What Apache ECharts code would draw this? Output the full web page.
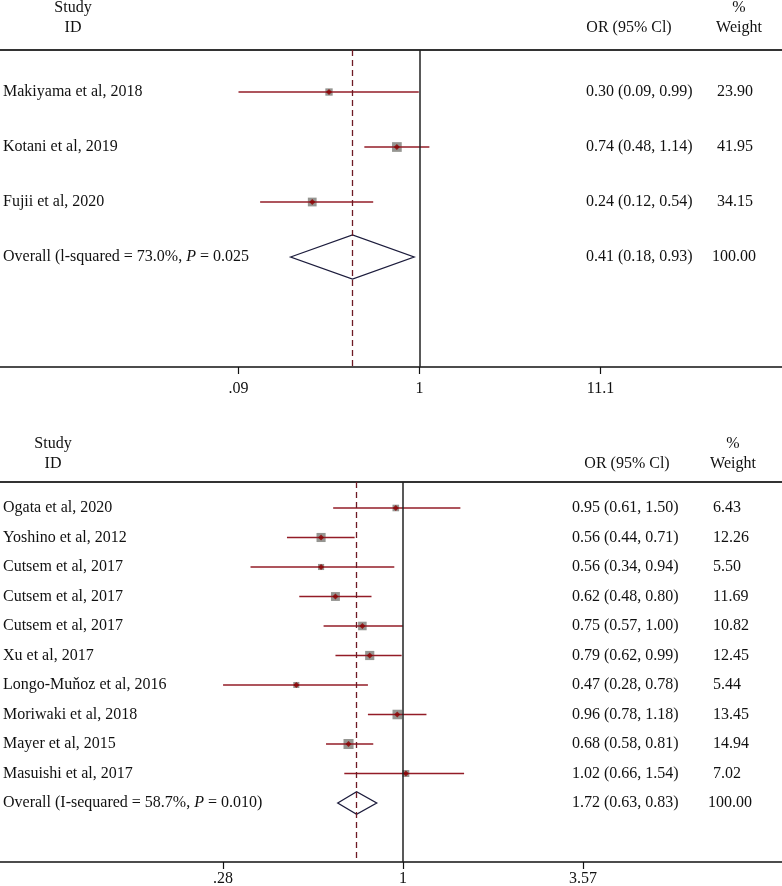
<!DOCTYPE html>
<html>
<head>
<meta charset="utf-8">
<script src="https://cdn.jsdelivr.net/npm/echarts@6/dist/echarts.min.js"></script>
<style>
html,body{margin:0;padding:0;background:#fff}
#main{width:782px;height:886px}
</style>
</head>
<body>
<div id="main"></div>
<script>
// upper panel
var topStudies = ['Makiyama et al, 2018', 'Kotani et al, 2019', 'Fujii et al, 2020'];
var topOR = [0.30, 0.74, 0.24];
var topLow = [0.09, 0.48, 0.12];
var topHigh = [0.99, 1.14, 0.54];
var topWeight = [23.90, 41.95, 34.15];
var topORText = ['0.30 (0.09, 0.99)', '0.74 (0.48, 1.14)', '0.24 (0.12, 0.54)', '0.41 (0.18, 0.93)'];
var topOverall = [0.41, 0.18, 0.93]; // est, low, high
var topOverallName = 'Overall (l-squared = 73.0%, {i|P} = 0.025';
var topTicks = [0.09, 1, 11.1];
var topTickLabels = ['.09', '1', '11.1'];

// lower panel
var botStudies = ['Ogata et al, 2020', 'Yoshino et al, 2012', 'Cutsem et al, 2017', 'Cutsem et al, 2017',
  'Cutsem et al, 2017', 'Xu et al, 2017', 'Longo-Muňoz et al, 2016', 'Moriwaki et al, 2018',
  'Mayer et al, 2015', 'Masuishi et al, 2017'];
var botOR = [0.95, 0.56, 0.56, 0.62, 0.75, 0.79, 0.47, 0.96, 0.68, 1.02];
var botLow = [0.61, 0.44, 0.34, 0.48, 0.57, 0.62, 0.28, 0.78, 0.58, 0.66];
var botHigh = [1.50, 0.71, 0.94, 0.80, 1.00, 0.99, 0.78, 1.18, 0.81, 1.54];
var botWeight = [6.43, 12.26, 5.50, 11.69, 10.82, 12.45, 5.44, 13.45, 14.94, 7.02];
var botORText = ['0.95 (0.61, 1.50)', '0.56 (0.44, 0.71)', '0.56 (0.34, 0.94)', '0.62 (0.48, 0.80)',
  '0.75 (0.57, 1.00)', '0.79 (0.62, 0.99)', '0.47 (0.28, 0.78)', '0.96 (0.78, 1.18)',
  '0.68 (0.58, 0.81)', '1.02 (0.66, 1.54)', '1.72 (0.63, 0.83)'];
var botOverall = [0.72, 0.63, 0.83]; // drawn position of the diamond
var botOverallName = 'Overall (I-sequared = 58.7%, {i|P} = 0.010)';
var botTicks = [0.28, 1, 3.57];
var botTickLabels = ['.28', '1', '3.57'];

var FONT = 'Liberation Serif';
var FS = 16;
var myChart = echarts.init(document.getElementById('main'));

function tickFormatter(ticks, labels) {
	return function(v) {
		var best = 0;
		for (var i = 1; i < ticks.length; i++) {
			if (Math.abs(Math.log(v / ticks[i])) < Math.abs(Math.log(v / ticks[best]))) best = i;
		}
		return labels[best];
	};
}

function logAxis(grid, min, max, ticks, labels, margin) {
	return {
		type: 'log', logBase: Math.E, gridIndex: grid, min: min, max: max, position: 'bottom',
		axisLine: { show: true, onZero: false, lineStyle: { color: '#111', width: 1.5 } },
		axisTick: { show: true, length: 7, customValues: ticks, lineStyle: { color: '#111', width: 1.2 } },
		axisLabel: { customValues: ticks, formatter: tickFormatter(ticks, labels), margin: margin,
			fontFamily: FONT, fontSize: FS, color: '#111' },
		splitLine: { show: false }
	};
}

function pixelAxis(grid) {
	return {
		type: 'value', gridIndex: grid, min: 0, max: 782, position: 'top',
		axisLine: { show: true, onZero: false, lineStyle: { color: '#333', width: 2 } },
		axisTick: { show: false }, axisLabel: { show: false }, splitLine: { show: false }
	};
}

function rowAxis(grid, min, max) {
	return { type: 'value', gridIndex: grid, inverse: true, min: min, max: max, show: false, splitLine: { show: false } };
}

function panelSeries(xi, yi, studies, or, low, high, weight, orText, overall, overallName, k, dh, cols) {
	var n = studies.length;
	var ci = [], sq = [], dots = [];
	for (var i = 0; i < n; i++) {
		ci.push([i, low[i], high[i]]);
		sq.push([or[i], i, weight[i]]);
		dots.push([or[i], i]);
	}
	var texts = [];
	for (var j = 0; j < n; j++) {
		texts.push({ x: 3, row: j, text: studies[j] });
		texts.push({ x: cols[0], row: j, text: orText[j] });
		texts.push({ x: cols[1], row: j, text: weight[j].toFixed(2) });
	}
	texts.push({ x: 3, row: n, text: overallName });
	texts.push({ x: cols[0], row: n, text: orText[n] });
	texts.push({ x: cols[1] - 5, row: n, text: '100.00' });

	return [
		{
			type: 'scatter', xAxisIndex: xi, yAxisIndex: yi, z: 2, symbol: 'rect',
			data: sq,
			symbolSize: function(v) { return Math.sqrt(v[2]) * k; },
			itemStyle: { color: '#7a7a76' },
			markLine: {
				silent: true, symbol: 'none', label: { show: false },
				data: [
					{ xAxis: 1, lineStyle: { color: '#222', width: 1.5, type: 'solid' } },
					{ xAxis: overall[0], lineStyle: { color: '#6e1a24', width: 1.3, type: [6, 4] } }
				]
			}
		},
		{
			type: 'custom', xAxisIndex: xi, yAxisIndex: yi, z: 3,
			data: ci,
			encode: { x: [1, 2], y: 0 },
			renderItem: function(params, api) {
				var a = api.coord([api.value(1), api.value(0)]);
				var b = api.coord([api.value(2), api.value(0)]);
				return { type: 'line', shape: { x1: a[0], y1: a[1], x2: b[0], y2: b[1] },
					style: { stroke: '#931c27', lineWidth: 1.6 } };
			}
		},
		{
			type: 'scatter', xAxisIndex: xi, yAxisIndex: yi, z: 4, symbol: 'diamond', symbolSize: 6,
			data: dots, itemStyle: { color: '#8b0000' }
		},
		{
			type: 'custom', xAxisIndex: xi, yAxisIndex: yi, z: 3,
			data: [[n, overall[0], overall[1], overall[2]]],
			encode: { x: [1, 2, 3], y: 0 },
			renderItem: function(params, api) {
				var row = api.value(0);
				var l = api.coord([api.value(2), row]);
				var r = api.coord([api.value(3), row]);
				var t = api.coord([api.value(1), row - dh]);
				var b = api.coord([api.value(1), row + dh]);
				return { type: 'polygon',
					shape: { points: [[l[0], l[1]], [t[0], t[1]], [r[0], r[1]], [b[0], b[1]]] },
					style: { fill: 'none', stroke: '#1c1c3c', lineWidth: 1.3 } };
			}
		},
		{
			type: 'custom', xAxisIndex: xi + 1, yAxisIndex: yi, z: 5, silent: true,
			data: texts.map(function(e) { return [e.x, e.row]; }),
			renderItem: function(params, api) {
				var p = api.coord([api.value(0), api.value(1)]);
				return { type: 'text', x: p[0], y: p[1],
					style: { text: texts[params.dataIndex].text, align: 'left', verticalAlign: 'middle',
						fontFamily: FONT, fontSize: FS, fill: '#111',
						rich: { i: { fontStyle: 'italic', fontFamily: FONT, fontSize: FS, fill: '#111' } } } };
			}
		}
	];
}

function header(y1, y2, cx1, cx2, cx3) {
	function t(x, y, s) {
		return { type: 'text', x: x, y: y, style: { text: s, align: 'center', verticalAlign: 'middle',
			fontFamily: FONT, fontSize: FS, fill: '#111' } };
	}
	return [t(cx1, y1, 'Study'), t(cx1, y2, 'ID'), t(cx2, y2, 'OR (95% Cl)'), t(cx3, y1, '%'), t(cx3, y2, 'Weight')];
}

var option = {
	animation: false,
	backgroundColor: '#fff',
	grid: [
		{ left: 0, right: 0, top: 50, height: 317, outerBoundsMode: 'none', containLabel: false },
		{ left: 0, right: 0, top: 482, height: 380, outerBoundsMode: 'none', containLabel: false }
	],
	xAxis: [
		logAxis(0, 0.00377, 124.2, topTicks, topTickLabels, 14),
		pixelAxis(0),
		logAxis(1, 0.0578, 14.59, botTicks, botTickLabels, 9),
		pixelAxis(1)
	],
	yAxis: [rowAxis(0, -0.764, 5.0), rowAxis(1, -0.881, 12.0)],
	graphic: header(8, 28, 73, 629, 739).concat(header(444, 464, 53, 627, 733)),
	series: panelSeries(0, 0, topStudies, topOR, topLow, topHigh, topWeight, topORText, topOverall, topOverallName, 1.5, 0.4, [586, 717])
		.concat(panelSeries(2, 1, botStudies, botOR, botLow, botHigh, botWeight, botORText, botOverall, botOverallName, 2.6, 0.38, [572, 713]))
};
myChart.setOption(option);
</script>
</body>
</html>
